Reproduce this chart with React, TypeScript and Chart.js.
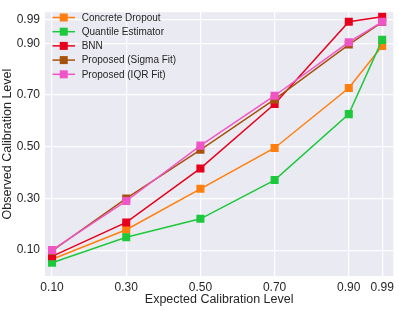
import React, { useEffect, useRef } from "react";
import { Chart, registerables } from "chart.js";

Chart.register(...registerables);

const expected = [0.1, 0.3, 0.5, 0.7, 0.9, 0.99];
const tickValues = [0.1, 0.3, 0.5, 0.7, 0.9, 0.99];

const concreteDropout = [0.065, 0.179, 0.337, 0.495, 0.727, 0.889];
const quantileEstimator = [0.051, 0.15, 0.221, 0.371, 0.626, 0.913];
const bnn = [0.076, 0.207, 0.416, 0.665, 0.983, 1.002];
const sigmaFit = [0.097, 0.3, 0.488, 0.683, 0.895, 0.982];
const iqrFit = [0.1, 0.29, 0.504, 0.697, 0.904, 0.983];

const seriesNames = [
  "Concrete Dropout",
  "Quantile Estimator",
  "BNN",
  "Proposed (Sigma Fit)",
  "Proposed (IQR Fit)",
];
const seriesColors = ["#ff7f0e", "#1ec83c", "#e6001c", "#a6520c", "#f055c8"];
const seriesData = [concreteDropout, quantileEstimator, bnn, sigmaFit, iqrFit];

const FONT = "'Liberation Sans', Arial, sans-serif";

const legendPlugin = {
  id: "innerLegend",
  afterDraw(chart: any) {
    const ctx = chart.ctx;
    const x0 = 52.5;
    const y0 = 17.5;
    const dy = 14.2;
    ctx.save();
    seriesNames.forEach((name, i) => {
      const y = y0 + i * dy;
      ctx.strokeStyle = seriesColors[i];
      ctx.lineWidth = 1.5;
      ctx.beginPath();
      ctx.moveTo(x0, y);
      ctx.lineTo(x0 + 22.5, y);
      ctx.stroke();
      ctx.fillStyle = seriesColors[i];
      ctx.fillRect(x0 + 11.25 - 4, y - 4, 8, 8);
      ctx.fillStyle = "#262626";
      ctx.font = `10px ${FONT}`;
      ctx.textBaseline = "middle";
      ctx.textAlign = "left";
      ctx.fillText(name, 81.7, y + 0.5);
    });
    ctx.restore();
  },
};

const bgPlugin = {
  id: "plotBg",
  beforeDraw(chart: any) {
    const { ctx, chartArea } = chart;
    ctx.save();
    ctx.fillStyle = "#eaeaf2";
    ctx.fillRect(
      chartArea.left,
      chartArea.top,
      chartArea.right - chartArea.left,
      chartArea.bottom - chartArea.top
    );
    ctx.restore();
  },
};

export default function App() {
  const ref = useRef<HTMLCanvasElement | null>(null);

  useEffect(() => {
    document.body.style.margin = "0";
    if (!ref.current) return;
    const chart = new Chart(ref.current, {
      type: "line",
      data: {
        datasets: seriesData.map((vals, i) => ({
          label: seriesNames[i],
          data: expected.map((x, j) => ({ x, y: vals[j] })),
          borderColor: seriesColors[i],
          backgroundColor: seriesColors[i],
          borderWidth: 1.5,
          pointStyle: "rect",
          pointRadius: 5.7,
          pointBorderWidth: 0,
          order: 5 - i,
          tension: 0,
        })),
      },
      options: {
        animation: false,
        responsive: false,
        layout: { padding: { top: 4, right: 5, left: 0, bottom: 0 } },
        plugins: {
          legend: { display: false },
          tooltip: { enabled: false },
        },
        scales: {
          x: {
            type: "linear",
            min: 0.081,
            max: 1.02,
            afterBuildTicks: (scale: any) => {
              scale.ticks = tickValues.map((v) => ({ value: v }));
            },
            afterFit: (scale: any) => {
              scale.height = 34;
            },
            grid: { color: "#ffffff", lineWidth: 1.2, drawTicks: false },
            border: { display: false },
            ticks: {
              callback: (v: any) => Number(v).toFixed(2),
              color: "#262626",
              font: { family: FONT, size: 12 },
              padding: 4,
              maxRotation: 0,
              autoSkip: false,
            },
            title: {
              display: true,
              text: "Expected Calibration Level",
              color: "#262626",
              font: { family: FONT, size: 12.5 },
              padding: { top: 0, bottom: 3 },
            },
          },
          y: {
            type: "linear",
            min: 0.0,
            max: 1.02,
            afterBuildTicks: (scale: any) => {
              scale.ticks = tickValues.map((v) => ({ value: v }));
            },
            afterFit: (scale: any) => {
              scale.width = 45;
            },
            grid: { color: "#ffffff", lineWidth: 1.2, drawTicks: false },
            border: { display: false },
            ticks: {
              callback: (v: any) => Number(v).toFixed(2),
              color: "#262626",
              font: { family: FONT, size: 12 },
              padding: 5,
              autoSkip: false,
            },
            title: {
              display: true,
              text: "Observed Calibration Level",
              color: "#262626",
              font: { family: FONT, size: 12.5 },
              padding: { top: 0, bottom: 2 },
            },
          },
        },
      },
      plugins: [bgPlugin, legendPlugin],
    } as any);
    return () => chart.destroy();
  }, []);

  return (
    <div style={{ width: 399, height: 310 }}>
      <canvas ref={ref} width={399} height={310} />
    </div>
  );
}
